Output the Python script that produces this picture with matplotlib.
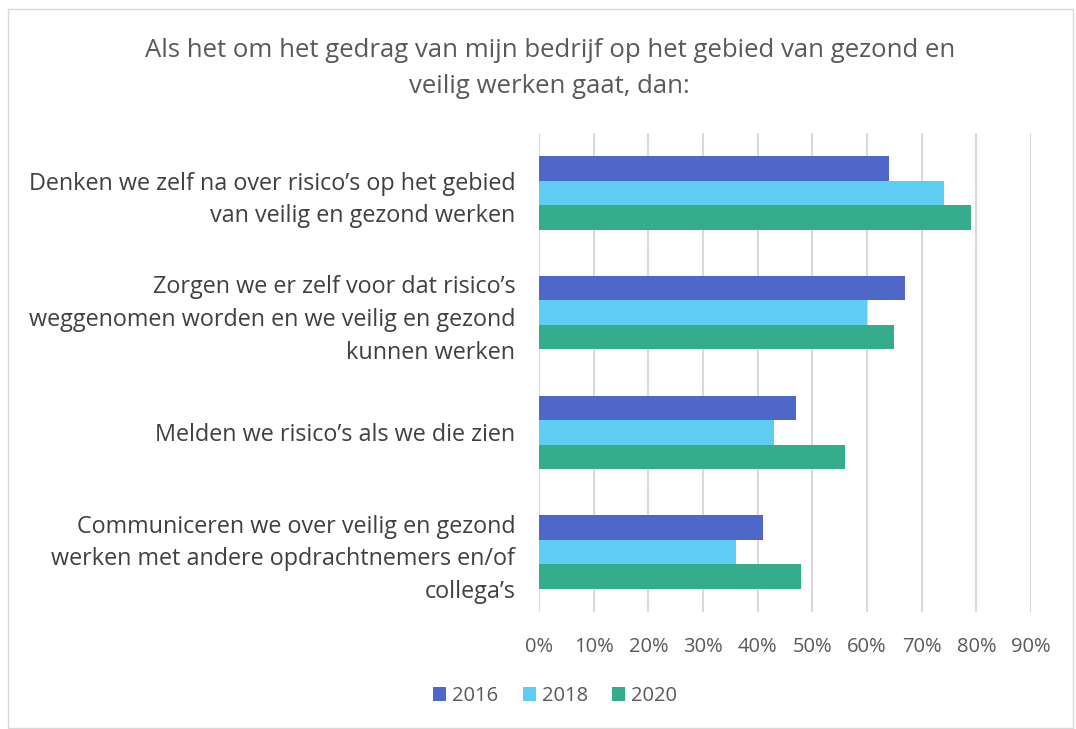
import numpy as np
import matplotlib.pyplot as plt
from matplotlib.patches import Rectangle
from matplotlib.ticker import PercentFormatter

# categories (top to bottom) and values in percent
categories = [
    "Denken we zelf na over risico\u2019s op het gebied\nvan veilig en gezond werken",
    "Zorgen we er zelf voor dat risico\u2019s\nweggenomen worden en we veilig en gezond\nkunnen werken",
    "Melden we risico\u2019s als we die zien",
    "Communiceren we over veilig en gezond\nwerken met andere opdrachtnemers en/of\ncollega\u2019s",
]
years = ["2016", "2018", "2020"]
values_2016 = [64, 67, 47, 41]
values_2018 = [74, 60, 43, 36]
values_2020 = [79, 65, 56, 48]
colors = ["#4E67C8", "#5ECCF3", "#35AC8C"]

plt.rcParams['font.family'] = ['Open Sans', 'DejaVu Sans']

fig = plt.figure(figsize=(10.76, 7.29), dpi=100)
ax = fig.add_axes([0.5009, 0.1605, 0.4573, 0.6571])

# light border around the chart
fig.patches.append(Rectangle((8 / 1076, 0.002), 1 - 11 / 1076, 1 - 10 / 729,
                             transform=fig.transFigure, fill=False,
                             edgecolor="#D9D9D9", linewidth=1))

y = np.arange(len(categories))
h = 0.205
series = [values_2016, values_2018, values_2020]
for i, (vals, yr, c) in enumerate(zip(series, years, colors)):
    ax.barh(y + (i - 1) * h, vals, height=h, color=c, label=yr, zorder=3)

ax.set_ylim(len(categories) - 0.5, -0.5)
ax.set_xlim(0, 90)
ax.set_xticks(range(0, 91, 10))
ax.xaxis.set_major_formatter(PercentFormatter(decimals=0))
ax.set_yticks(y)
ax.set_yticklabels(categories, fontsize=16.8, color="#404040", linespacing=1.48)
ax.tick_params(axis='y', length=0, pad=17)
ax.tick_params(axis='x', length=0, pad=18, labelsize=14.5, labelcolor="#595959")
ax.grid(axis='x', color="#D9D9D9", linewidth=1.5, zorder=0)
for s in ax.spines.values():
    s.set_visible(False)

fig.text(0.511, 0.906, "Als het om het gedrag van mijn bedrijf op het gebied van gezond en\nveilig werken gaat, dan:",
         ha='center', va='center', fontsize=18.5, color="#595959", linespacing=1.55)

fig.legend(loc='center', bbox_to_anchor=(0.516, 0.045), ncol=3, frameon=False,
           fontsize=14.5, labelcolor="#595959", handlelength=0.65, handleheight=0.65,
           handletextpad=0.3, columnspacing=1.2)

fig.savefig("out.png", dpi=100)
